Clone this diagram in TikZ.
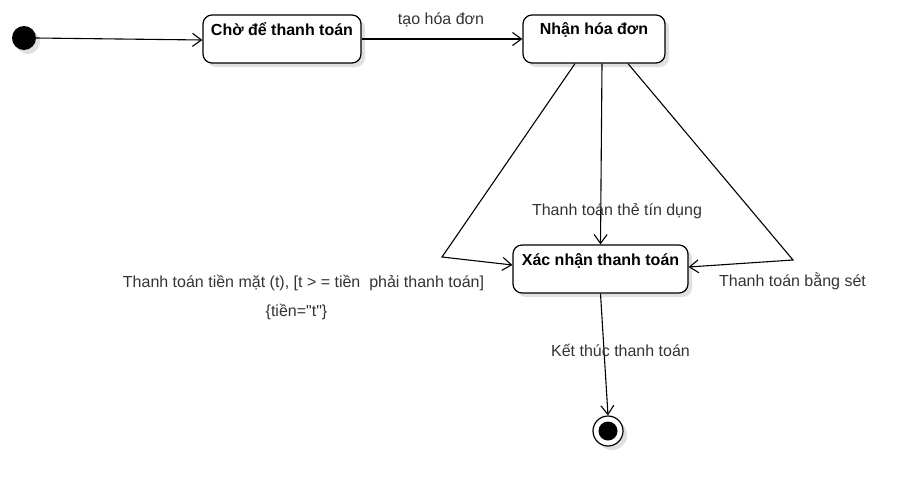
\documentclass[tikz,border=0pt]{standalone}
\usepackage{fontspec}
\setmainfont{Liberation Sans}[Ligatures=TeXOff]
\usetikzlibrary{arrows.meta,shadows,calc}
\begin{document}
\begin{tikzpicture}[x=1pt,y=-1pt,
  state/.style={draw=black, line width=1.2pt, rounded corners=9pt, fill=white,
    minimum width=#1, minimum height=48pt, inner sep=0pt,
    drop shadow={shadow xshift=4pt, shadow yshift=-4pt, fill=black!12, opacity=1}},
  title/.style={font=\bfseries\fontsize{16}{18}\selectfont, anchor=base, inner sep=0pt},
  lbl/.style={font=\fontsize{16}{18}\selectfont, text=black!80, inner sep=0pt, anchor=base},
  conn/.style={draw=black, line width=1.1pt, -{Straight Barb[length=9pt,width=13pt,line width=1.1pt]}},
]
\useasboundingbox (0,0) rectangle (916,496);
% initial state
\node[circle, fill=black, minimum size=24pt, inner sep=0pt,
  drop shadow={shadow xshift=4pt, shadow yshift=-4pt, fill=black!12, opacity=1}] (init) at (24,38) {};
% states
\node[state=158pt] (b1) at (282,39) {};
\node[title] at ($(b1.north)+(0,21)$) {Chờ để thanh toán};
\node[state=142pt] (b2) at (594,39) {};
\node[title] at ($(b2.north)+(0,20.5)$) {Nhận hóa đơn};
\node[state=175pt] (b3) at (600.5,269) {};
\node[title] at ($(b3.north)+(0,21)$) {Xác nhận thanh toán};
% final state
\node[circle, draw=black, line width=1.2pt, fill=white, minimum size=30pt, inner sep=0pt,
  drop shadow={shadow xshift=4pt, shadow yshift=-4pt, fill=black!12, opacity=1}] (fin) at (608,431) {};
\node[circle, fill=black, minimum size=19pt, inner sep=0pt] (finc) at (fin) {};
% bend points
\coordinate (cl) at (442,257);
\coordinate (cr) at (793,260);
% connectors
\draw[conn] (init.east) -- ($(b1.west)+(0,1)$);
\draw[conn] (b1.east) -- (b2.west);
\draw[conn] ($(b2.south)+(-19,0)$) -- (cl) -- ($(b3.west)+(0,-4)$);
\draw[conn] ($(b2.south)+(8,0)$) -- (b3.north);
\draw[conn] ($(b2.south)+(34,0)$) -- (cr) -- ($(b3.east)+(0,-2)$);
\draw[conn] (b3.south) -- (fin.north);
% labels
\node[lbl] (l1) at (441,24) {tạo hóa đơn};
\node[lbl] (l2) at (617,215) {Thanh toán thẻ tín dụng};
\node[lbl] (l3) at (303.5,287) {Thanh toán tiền mặt (t), [t > = tiền\ \ phải thanh toán]};
\node[lbl] (l4) at (296.5,316) {\{tiền="t"\}};
\node[lbl] (l5) at (792.5,286) {Thanh toán bằng sét};
\node[lbl] (l6) at (620.5,356.5) {Kết thúc thanh toán};
\end{tikzpicture}
\end{document}
